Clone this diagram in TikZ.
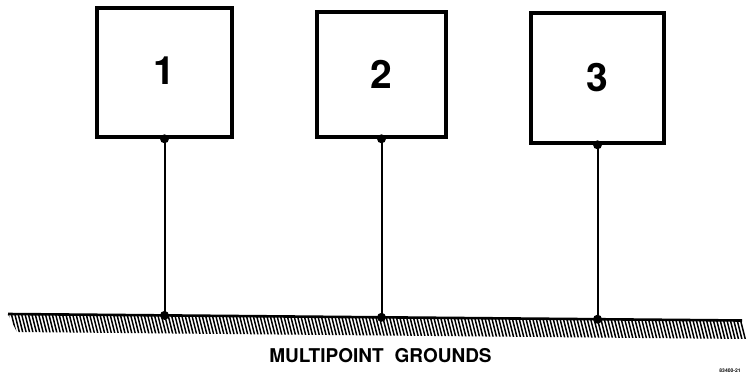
\documentclass[tikz,border=0pt]{standalone}
\usepackage{fontspec}
\setmainfont{TeX Gyre Heros}
\begin{document}
\begin{tikzpicture}[x=1pt,y=-1pt,
  unitbox/.style={draw, line width=3.6pt, inner sep=0pt, font=\fontsize{39}{39}\selectfont\bfseries},
  wire/.style={line width=2pt},
  joint/.style={circle, fill=black, inner sep=0pt, minimum size=9pt}]
\useasboundingbox (0,0) rectangle (747,384);
% boxes
\node[unitbox, minimum width=135pt, minimum height=129pt] (b1) at (164.5,72.5) {\raisebox{4pt}{1}};
\node[unitbox, minimum width=129pt, minimum height=125pt] (b2) at (381.5,74.5) {2};
\node[unitbox, minimum width=133pt, minimum height=130pt] (b3) at (597.5,78) {3};
% ground plane
\coordinate (gl) at (8,314);
\coordinate (gr) at (742,320.5);
\coordinate (glb) at (17,332);
\coordinate (grb) at (747,339);
\begin{scope}
\clip (gl) -- (gr) -- (grb) -- (glb) -- cycle;
\foreach \i in {0,...,230} {
  \draw[line width=1.5pt] (\i*3.4-10,310) -- (\i*3.4-2,342);
}
\end{scope}
\draw[line width=2.6pt] (gl) -- (gr);
% ground joints
\path (gl) -- (gr) coordinate[pos=0.2112] (g1) coordinate[pos=0.5068] (g2) coordinate[pos=0.8011] (g3);
\foreach \k in {1,2,3} {
  \draw[wire] (b\k.south) -- (b\k.south |- g\k);
  \node[joint] at (b\k.south) {};
  \node[joint] at (b\k.south |- g\k) {};
}
% labels
\node[font=\fontsize{19}{19}\selectfont\bfseries] (title) at (380.5,356) {MULTIPOINT\hspace{0.3em} GROUNDS};
\node[font=\fontsize{5}{5}\selectfont\bfseries] (code) at (730,371) {83400-21};
\end{tikzpicture}
\end{document}
